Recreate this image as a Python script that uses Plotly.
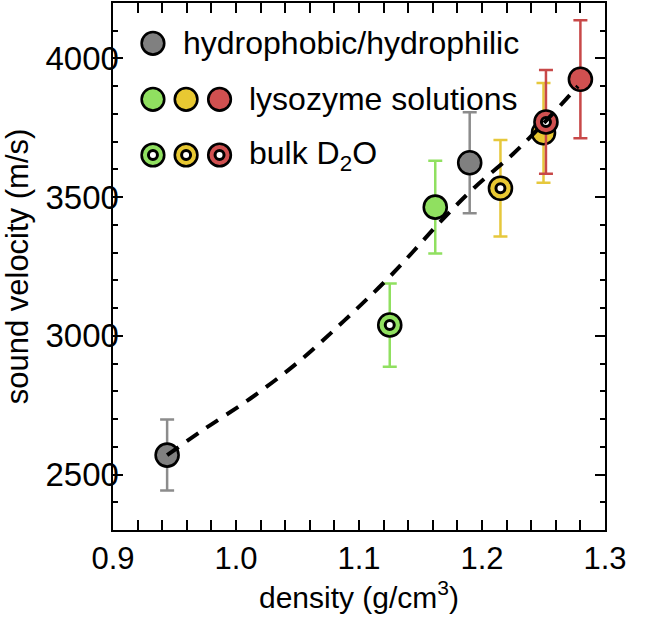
import plotly.graph_objects as go

# ---- data ----
hyd_density = [0.944, 1.190]
hyd_velocity = [2570, 3624]
hyd_err = [128, 182]

lys_density = [1.162, 1.250, 1.280]
lys_velocity = [3464, 3732, 3925]
lys_err = [167, 180, 213]

bulk_density = [1.125, 1.215, 1.252]
bulk_velocity = [3039, 3532, 3771]
bulk_err = [150, 174, 187]

fit_density = [0.944, 0.974, 1.012, 1.051, 1.088, 1.126, 1.168, 1.194, 1.225, 1.252, 1.278]
fit_velocity = [2570, 2663, 2775, 2907, 3055, 3218, 3420, 3535, 3655, 3775, 3900]

x_range = [0.9, 1.3]
y_range = [2300, 4200]

series_colors = ["#90e060", "#e8c832", "#d05050"]
errbar_colors = ["#90e060", "#e6c83c", "#c84848"]
grey = "#808080"
grey_err = "#8c8c8c"

legend_labels = ["hydrophobic/hydrophilic", "lysozyme solutions", "bulk D<sub>2</sub>O"]

FONT = "Liberation Sans, Arial, Helvetica, sans-serif"
MS = 23
MLW = 2.6

fig = go.Figure()

# invisible helper so the frame/tick axis (y2) is rendered
fig.add_trace(go.Scatter(
    x=fit_density, y=fit_velocity, yaxis="y2", mode="lines",
    line=dict(color="rgba(0,0,0,0)", width=0), hoverinfo="skip", showlegend=False))

fig.add_trace(go.Scatter(
    x=hyd_density, y=hyd_velocity, mode="markers",
    marker=dict(size=MS, color=grey, line=dict(color="black", width=MLW)),
    error_y=dict(type="data", array=hyd_err, color=grey_err, thickness=2.5, width=7),
    showlegend=False))

order = [("lys", 0), ("bulk", 0), ("bulk", 1), ("lys", 1), ("lys", 2), ("bulk", 2)]
for kind, i in order:
    if kind == "lys":
        xs, ys, es = [lys_density[i]], [lys_velocity[i]], [lys_err[i]]
    else:
        xs, ys, es = [bulk_density[i]], [bulk_velocity[i]], [bulk_err[i]]
    fig.add_trace(go.Scatter(
        x=xs, y=ys, mode="markers",
        marker=dict(size=MS, color=series_colors[i], line=dict(color="black", width=MLW)),
        error_y=dict(type="data", array=es, color=errbar_colors[i], thickness=2.5, width=7),
        showlegend=False))
    if kind == "bulk":
        fig.add_trace(go.Scatter(
            x=xs, y=ys, mode="markers",
            marker=dict(size=9, color="white", line=dict(color="black", width=3)),
            showlegend=False, hoverinfo="skip"))

fig.add_trace(go.Scatter(
    x=fit_density, y=fit_velocity, mode="lines",
    line=dict(color="black", width=4, dash="14px,10px", shape="spline", smoothing=1.0),
    showlegend=False))

# ---- custom legend (shapes + text) ----
def px_to_paper_x(px):
    return (px - 112.3) / 492.7

def px_to_paper_y(py):
    return (530 - py) / 527.0

shapes = []
def circle(cx, cy, r, fill, lw):
    shapes.append(dict(type="circle", xref="paper", yref="paper",
                       xsizemode="pixel", ysizemode="pixel",
                       xanchor=px_to_paper_x(cx), yanchor=px_to_paper_y(cy),
                       x0=-r, x1=r, y0=-r, y1=r,
                       fillcolor=fill, line=dict(color="black", width=lw), layer="above"))

row_y = [43.3, 99.3, 155.0]
col_x = [152.3, 185.5, 219.0]
circle(col_x[0], row_y[0], 11.3, grey, MLW)
for i, c in enumerate(series_colors):
    circle(col_x[i], row_y[1], 11.3, c, MLW)
for i, c in enumerate(series_colors):
    circle(col_x[i], row_y[2], 11.3, c, MLW)
    circle(col_x[i], row_y[2], 4.5, "white", 3)

annotations = []
text_x = [180, 246, 246]
for lbl, tx, ty in zip(legend_labels, text_x, row_y):
    annotations.append(dict(text=lbl, xref="paper", yref="paper",
                            x=px_to_paper_x(tx), y=px_to_paper_y(ty),
                            xanchor="left", yanchor="middle", showarrow=False,
                            font=dict(family=FONT, size=32, color="black")))

tick_style = dict(ticks="inside", ticklen=10, tickwidth=2, tickcolor="black")

fig.update_layout(
    width=664, height=617,
    margin=dict(l=113, r=59, t=3, b=87),
    plot_bgcolor="white", paper_bgcolor="white",
    shapes=shapes, annotations=annotations,
    xaxis=dict(range=x_range, tick0=0.9, dtick=0.1, tickformat=".1f",
               showline=True, linecolor="black", linewidth=2, mirror="allticks",
               showgrid=False, zeroline=False, automargin=False,
               tickfont=dict(family=FONT, size=31, color="black"),
               minor=dict(dtick=0.02, ticks="inside", ticklen=5, tickwidth=1.5, tickcolor="black"),
               title=dict(text="density (g/cm<sup>3</sup>)", font=dict(family=FONT, size=30, color="black"),
                          standoff=2),
               **tick_style),
    # label-only axis, nudged toward the frame
    yaxis=dict(range=y_range, tick0=2500, dtick=500,
               anchor="free", position=0.012,
               showline=False, ticks="", showgrid=False, zeroline=False, automargin=False,
               tickfont=dict(family=FONT, size=33, color="black"),
               title=dict(text="sound velocity (m/s)", font=dict(family=FONT, size=31, color="black"),
                          standoff=8)),
    # frame + ticks axis
    yaxis2=dict(range=y_range, tick0=2500, dtick=500, overlaying="y", anchor="x", side="left",
                showticklabels=False, showline=True, linecolor="black", linewidth=2, mirror="allticks",
                showgrid=False, zeroline=False, automargin=False,
                minor=dict(dtick=100, ticks="inside", ticklen=5, tickwidth=1.5, tickcolor="black"),
                **tick_style),
)

fig.write_html("out.html", config={"displayModeBar": False},
               post_script="document.body.style.margin='0px';document.body.style.padding='0px';")
